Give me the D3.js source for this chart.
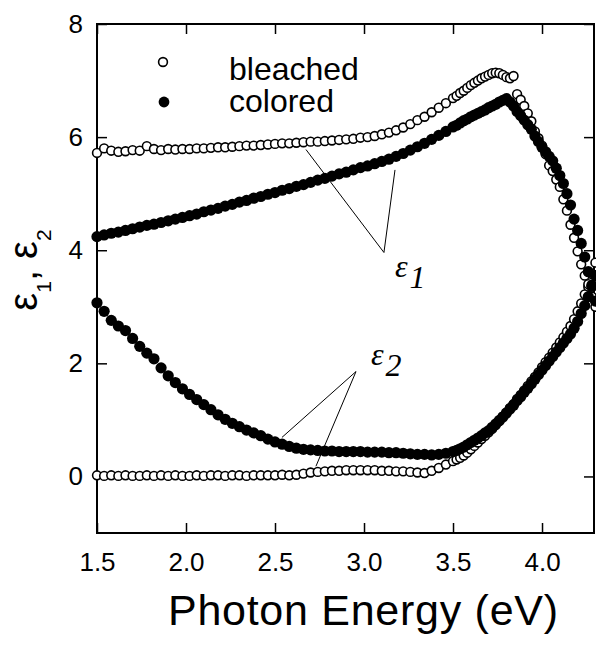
<!DOCTYPE html>
<html>
<head>
<meta charset="utf-8">
<script src="https://cdn.jsdelivr.net/npm/d3@7"></script>
<style>
  body { margin: 0; background: #fff; }
  svg { display: block; }
</style>
</head>
<body>
<script>
// photon energy (eV) shared by all four series
var energy = [
  1.50, 1.54, 1.58, 1.62, 1.66, 1.70, 1.74, 1.78, 1.82, 1.86,
  1.90, 1.94, 1.98, 2.02, 2.06, 2.10, 2.14, 2.18, 2.22, 2.26,
  2.30, 2.34, 2.38, 2.42, 2.46, 2.50, 2.54, 2.58, 2.62, 2.66,
  2.70, 2.74, 2.78, 2.82, 2.86, 2.90, 2.94, 2.98, 3.02, 3.06,
  3.10, 3.14, 3.18, 3.22, 3.26, 3.30, 3.34, 3.38, 3.42, 3.46,
  3.50, 3.52, 3.54, 3.56, 3.58, 3.60, 3.62, 3.64, 3.66, 3.68,
  3.70, 3.72, 3.74, 3.76, 3.78, 3.80, 3.82, 3.84, 3.86, 3.88,
  3.90, 3.92, 3.94, 3.96, 3.98, 4.00, 4.02, 4.04, 4.06, 4.08,
  4.10, 4.12, 4.14, 4.16, 4.18, 4.20, 4.22, 4.24, 4.26, 4.28,
  4.30
];

var bleachedEps1 = [
  5.72, 5.80, 5.76, 5.74, 5.75, 5.77, 5.76, 5.84, 5.79, 5.77,
  5.79, 5.78, 5.79, 5.79, 5.80, 5.80, 5.81, 5.82, 5.82, 5.83,
  5.84, 5.85, 5.85, 5.86, 5.87, 5.88, 5.89, 5.89, 5.90, 5.91,
  5.92, 5.92, 5.93, 5.94, 5.95, 5.96, 5.97, 5.99, 6.00, 6.02,
  6.05, 6.08, 6.12, 6.17, 6.23, 6.30, 6.36, 6.44, 6.52, 6.60,
  6.69, 6.73, 6.78, 6.82, 6.87, 6.92, 6.96, 7.00, 7.04, 7.07,
  7.10, 7.13, 7.14, 7.13, 7.10, 7.06, 7.04, 7.08, 6.76, 6.66,
  6.55, 6.42, 6.28, 6.10, 5.98, 5.85, 5.70, 5.50, 5.40, 5.25,
  5.12, 4.90, 4.70, 4.45, 4.22, 3.98, 3.75, 3.55, 3.35, 3.18,
  3.00
];

var coloredEps1 = [
  4.24, 4.27, 4.30, 4.32, 4.35, 4.38, 4.41, 4.44, 4.46, 4.49,
  4.52, 4.55, 4.58, 4.61, 4.64, 4.68, 4.71, 4.74, 4.78, 4.81,
  4.85, 4.88, 4.92, 4.95, 4.99, 5.02, 5.06, 5.09, 5.13, 5.16,
  5.20, 5.24, 5.27, 5.31, 5.35, 5.38, 5.42, 5.46, 5.49, 5.53,
  5.57, 5.61, 5.66, 5.71, 5.77, 5.83, 5.89, 5.96, 6.03, 6.10,
  6.18, 6.21, 6.25, 6.29, 6.32, 6.36, 6.39, 6.42, 6.45, 6.48,
  6.52, 6.55, 6.58, 6.62, 6.65, 6.68, 6.62, 6.55, 6.45, 6.38,
  6.30, 6.22, 6.14, 6.02, 5.92, 5.82, 5.74, 5.66, 5.58, 5.45,
  5.32, 5.18, 5.00, 4.80, 4.55, 4.35, 4.12, 3.88, 3.62, 3.38,
  3.10
];

var bleachedEps2 = [
  0.02, 0.01, 0.02, 0.01, 0.02, 0.01, 0.01, 0.02, 0.01, 0.02,
  0.01, 0.02, 0.01, 0.01, 0.02, 0.01, 0.02, 0.02, 0.01, 0.02,
  0.02, 0.01, 0.02, 0.02, 0.02, 0.02, 0.03, 0.02, 0.03, 0.05,
  0.07, 0.08, 0.09, 0.10, 0.10, 0.11, 0.11, 0.11, 0.11, 0.11,
  0.10, 0.10, 0.09, 0.09, 0.08, 0.07, 0.06, 0.10, 0.15, 0.21,
  0.27, 0.30, 0.33, 0.37, 0.42, 0.48, 0.54, 0.60, 0.66, 0.72,
  0.78, 0.84, 0.91, 0.98, 1.06, 1.13, 1.21, 1.28, 1.37, 1.44,
  1.52, 1.60, 1.68, 1.76, 1.84, 1.93, 2.02, 2.10, 2.19, 2.28,
  2.37, 2.46, 2.56, 2.66, 2.78, 2.92, 3.06, 3.22, 3.40, 3.58,
  3.78
];

var coloredEps2 = [
  3.07, 2.92, 2.76, 2.66, 2.58, 2.44, 2.30, 2.18, 2.08, 1.92,
  1.78, 1.66, 1.55, 1.45, 1.36, 1.27, 1.18, 1.09, 1.01, 0.94,
  0.88, 0.82, 0.77, 0.72, 0.66, 0.61, 0.57, 0.53, 0.50, 0.48,
  0.47, 0.46, 0.45, 0.45, 0.44, 0.44, 0.44, 0.44, 0.43, 0.43,
  0.43, 0.42, 0.42, 0.41, 0.40, 0.39, 0.39, 0.38, 0.39, 0.41,
  0.44, 0.46, 0.49, 0.52, 0.56, 0.60, 0.64, 0.68, 0.72, 0.77,
  0.81, 0.87, 0.93, 0.99, 1.05, 1.12, 1.19, 1.26, 1.34, 1.41,
  1.49, 1.56, 1.64, 1.72, 1.80, 1.88, 1.96, 2.04, 2.12, 2.20,
  2.28, 2.36, 2.44, 2.52, 2.62, 2.74, 2.88, 3.02, 3.18, 3.36,
  3.55
];

var xTicks = [1.5, 2.0, 2.5, 3.0, 3.5, 4.0];
var yTicks = [0, 2, 4, 6, 8];
var legendLabels = ["bleached", "colored"];

// pointer lines [apex, target, target] in data units
var eps1Pointer = [[3.112, 3.96], [2.674, 5.78], [3.174, 5.42]];
var eps2Pointer = [[2.955, 1.855], [2.539, 0.69], [2.73, 0.18]];

function init() {
    var w = 596;
    var h = 646;
    var left = 97, right = 594, top = 24, bottom = 533;
    var sans = "'Liberation Sans', Arial, sans-serif";
    var serif = "'Liberation Serif', 'Times New Roman', serif";

    var svg = d3.select("body")
        .append("svg")
        .attr("width", w)
        .attr("height", h);

    var x = d3.scaleLinear().domain([1.5, 4.292]).range([left, right]);
    var y = d3.scaleLinear().domain([-1, 8]).range([bottom, top]);

    function points(vals) {
        return energy.map(function(e, i) { return [e, vals[i]]; });
    }

    // Axes with inward ticks on all four sides
    svg.append("g")
        .attr("transform", "translate(0," + bottom + ")")
        .call(d3.axisBottom(x).tickValues(xTicks).tickFormat(d3.format(".1f"))
            .tickSizeInner(-10).tickSizeOuter(0).tickPadding(20));
    svg.append("g")
        .attr("transform", "translate(" + left + ",0)")
        .call(d3.axisLeft(y).tickValues(yTicks).tickFormat(d3.format("d"))
            .tickSizeInner(-10).tickSizeOuter(0).tickPadding(14));
    svg.append("g")
        .attr("transform", "translate(0," + top + ")")
        .call(d3.axisTop(x).tickValues(xTicks).tickFormat("").tickSizeInner(-10).tickSizeOuter(0));
    svg.append("g")
        .attr("transform", "translate(" + right + ",0)")
        .call(d3.axisRight(y).tickValues(yTicks).tickFormat("").tickSizeInner(-10).tickSizeOuter(0));

    svg.selectAll(".domain").remove();
    svg.selectAll(".tick line").attr("stroke", "#000").attr("stroke-width", 1.5);
    svg.selectAll(".tick text")
        .attr("fill", "#000")
        .style("font-family", sans)
        .style("font-size", "26px");

    // Frame
    svg.append("rect")
        .attr("x", left).attr("y", top)
        .attr("width", right - left).attr("height", bottom - top)
        .attr("fill", "none")
        .attr("stroke", "#000")
        .attr("stroke-width", 2);

    // Bleached: open circles
    [bleachedEps1, bleachedEps2].forEach(function(vals) {
        svg.append("g").selectAll("circle")
            .data(points(vals))
            .enter()
            .append("circle")
            .attr("cx", function(d) { return x(d[0]); })
            .attr("cy", function(d) { return y(d[1]); })
            .attr("r", 4.4)
            .attr("fill", "#fff")
            .attr("stroke", "#000")
            .attr("stroke-width", 1.6);
    });

    // Colored: filled circles
    [coloredEps1, coloredEps2].forEach(function(vals) {
        svg.append("g").selectAll("circle")
            .data(points(vals))
            .enter()
            .append("circle")
            .attr("cx", function(d) { return x(d[0]); })
            .attr("cy", function(d) { return y(d[1]); })
            .attr("r", 5.6)
            .attr("fill", "#000");
    });

    // Pointer lines
    [eps1Pointer, eps2Pointer].forEach(function(p) {
        for (var i = 1; i < p.length; i++) {
            svg.append("line")
                .attr("x1", x(p[0][0])).attr("y1", y(p[0][1]))
                .attr("x2", x(p[i][0])).attr("y2", y(p[i][1]))
                .attr("stroke", "#000")
                .attr("stroke-width", 1);
        }
    });

    // Curve labels
    function epsLabel(px, py, sub) {
        var t = svg.append("text")
            .attr("x", px).attr("y", py)
            .style("font-family", serif)
            .style("font-style", "italic")
            .style("font-size", "32px");
        t.append("tspan").text("\u03b5");
        t.append("tspan").attr("dx", 2).attr("dy", 11).text(sub);
    }
    epsLabel(395, 277, "1");
    epsLabel(371, 365, "2");

    // Legend
    var legend = svg.append("g");
    legend.append("circle").attr("cx", 163).attr("cy", 62).attr("r", 4.4)
        .attr("fill", "#fff").attr("stroke", "#000").attr("stroke-width", 1.6);
    legend.append("circle").attr("cx", 164).attr("cy", 102).attr("r", 5.4)
        .attr("fill", "#000");
    legend.selectAll("text")
        .data(legendLabels)
        .enter()
        .append("text")
        .attr("x", 229)
        .attr("y", function(d, i) { return 80 + i * 32; })
        .style("font-family", sans)
        .style("font-size", "32px")
        .text(function(d) { return d; });

    // Axis titles
    svg.append("text")
        .attr("x", 168).attr("y", 625)
        .attr("textLength", 390)
        .attr("lengthAdjust", "spacing")
        .style("font-family", sans)
        .style("font-size", "43px")
        .text("Photon Energy (eV)");

    var yt = svg.append("text")
        .attr("transform", "translate(37,270) rotate(-90)")
        .attr("text-anchor", "middle")
        .style("font-family", sans)
        .style("font-size", "40px");
    yt.append("tspan").text("\u03b5");
    yt.append("tspan").attr("dy", 14).style("font-size", "21px").text("1");
    yt.append("tspan").attr("dy", -14).text(", \u03b5");
    yt.append("tspan").attr("dy", 14).style("font-size", "21px").text("2");
}
window.onload = init;
</script>
</body>
</html>
